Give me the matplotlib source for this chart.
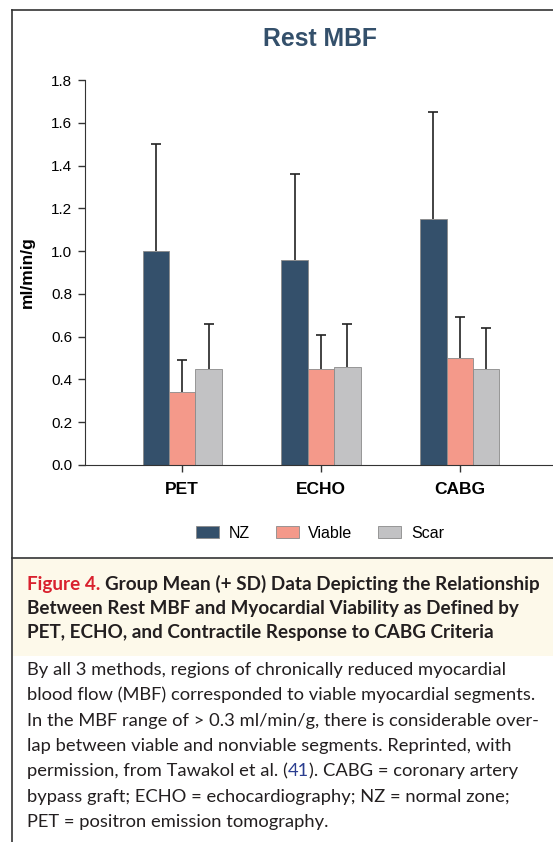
import numpy as np
import matplotlib.pyplot as plt
from matplotlib.patches import Rectangle

# data
methods = ['PET', 'ECHO', 'CABG']
groups = ['NZ', 'Viable', 'Scar']
nz_mean = [1.00, 0.96, 1.15]
nz_sd = [0.50, 0.40, 0.50]
viable_mean = [0.34, 0.45, 0.50]
viable_sd = [0.15, 0.16, 0.19]
scar_mean = [0.45, 0.46, 0.45]
scar_sd = [0.21, 0.20, 0.19]
yticks = [0.0, 0.2, 0.4, 0.6, 0.8, 1.0, 1.2, 1.4, 1.6, 1.8]

colors = ['#34506b', '#f4998a', '#c2c2c4']
W, H = 553, 842

fig = plt.figure(figsize=(W / 100, H / 100), dpi=100)


def fx(px):
    return px / W


def fy(py):
    return 1 - py / H


# frame lines and caption box
fig.add_artist(plt.Line2D([fx(12), fx(12)], [fy(10), 0], color='#333333', lw=1.2))
fig.add_artist(plt.Line2D([fx(12), 1], [fy(10), fy(10)], color='#333333', lw=1.2))
fig.add_artist(plt.Line2D([fx(12), 1], [fy(558), fy(558)], color='#333333', lw=1.2))
fig.add_artist(Rectangle((fx(13), fy(656)), 1 - fx(13), fy(559) - fy(656),
                         transform=fig.transFigure, facecolor='#fdf9ea', edgecolor='none'))

# chart
ax = fig.add_axes([fx(85), fy(465), fx(557) - fx(85), fy(80) - fy(465)])
x = np.arange(len(methods))
bw = 0.19
series = [(nz_mean, nz_sd), (viable_mean, viable_sd), (scar_mean, scar_sd)]
for i, (m, s) in enumerate(series):
    xs = x + (i - 1) * bw
    ax.bar(xs, m, bw, color=colors[i], edgecolor='#8a8a8a', linewidth=0.6,
           label=groups[i], zorder=2)
    eb = ax.errorbar(xs, m, yerr=[np.zeros(len(s)), s], fmt='none', capsize=3.5,
                     ecolor='#222222', elinewidth=1.2, capthick=1.2, zorder=1)
    eb.lines[1][0].set_visible(False)  # hide the lower caps

ax.set_xlim(-0.7, 2.7)
ax.set_ylim(0, 1.8)
ax.set_yticks(yticks)
ax.set_yticklabels([f'{v:.1f}' for v in yticks])
ax.set_xticks(x)
ax.set_xticklabels(methods, fontweight='bold', fontsize=12.5, family='Liberation Sans')
for lab in ax.get_yticklabels():
    lab.set_family('Liberation Sans')
    lab.set_fontsize(11)
ax.tick_params(axis='both', direction='out', length=5, width=1, color='#333333', pad=4)
ax.tick_params(axis='x', pad=7)
ax.spines['top'].set_visible(False)
ax.spines['right'].set_visible(False)
ax.spines['left'].set_color('#333333')
ax.spines['bottom'].set_color('#333333')
ax.set_ylabel('ml/min/g', fontweight='bold', fontsize=12.5, family='Liberation Sans', labelpad=12)

fig.text(fx(320), fy(39), 'Rest MBF', ha='center', va='center', fontsize=17.8,
         fontweight='bold', color='#34506b', family='Liberation Sans')

fig.legend(loc='center', bbox_to_anchor=(fx(320), fy(533)), ncol=3, frameon=False,
           prop={'family': 'Liberation Sans', 'size': 11.5},
           handlelength=1.45, handleheight=0.85, handletextpad=0.6, columnspacing=1.6)

# caption
renderer = fig.canvas.get_renderer()


def chain(pieces, x0, ybase, size, weight):
    xpos = fx(x0)
    for txt, col in pieces:
        t = fig.text(xpos, fy(ybase), txt, ha='left', va='baseline', fontsize=size,
                     fontweight=weight, color=col, family='Lato')
        bb = t.get_window_extent(renderer)
        xpos += bb.width / W


dark = '#231f20'
cap_size = 13.6
chain([('Figure 4. ', '#d9212e'), ('Group Mean (+ SD) Data Depicting the Relationship', dark)],
      27, 590, cap_size, 'bold')
chain([('Between Rest MBF and Myocardial Viability as Defined by', dark)], 27, 614, cap_size, 'bold')
chain([('PET, ECHO, and Contractile Response to CABG Criteria', dark)], 27, 638, cap_size, 'bold')

body = [
    [('By all 3 methods, regions of chronically reduced myocardial', dark)],
    [('blood flow (MBF) corresponded to viable myocardial segments.', dark)],
    [('In the MBF range of > 0.3 ml/min/g, there is considerable over-', dark)],
    [('lap between viable and nonviable segments. Reprinted, with', dark)],
    [('permission, from Tawakol et al. (', dark), ('41', '#2a3d8f'),
     ('). CABG = coronary artery', dark)],
    [('bypass graft; ECHO = echocardiography; NZ = normal zone;', dark)],
    [('PET = positron emission tomography.', dark)],
]
for k, line in enumerate(body):
    chain(line, 27, 675 + k * 25.33, 13.25, 'normal')

plt.savefig('out.png', dpi=100)
